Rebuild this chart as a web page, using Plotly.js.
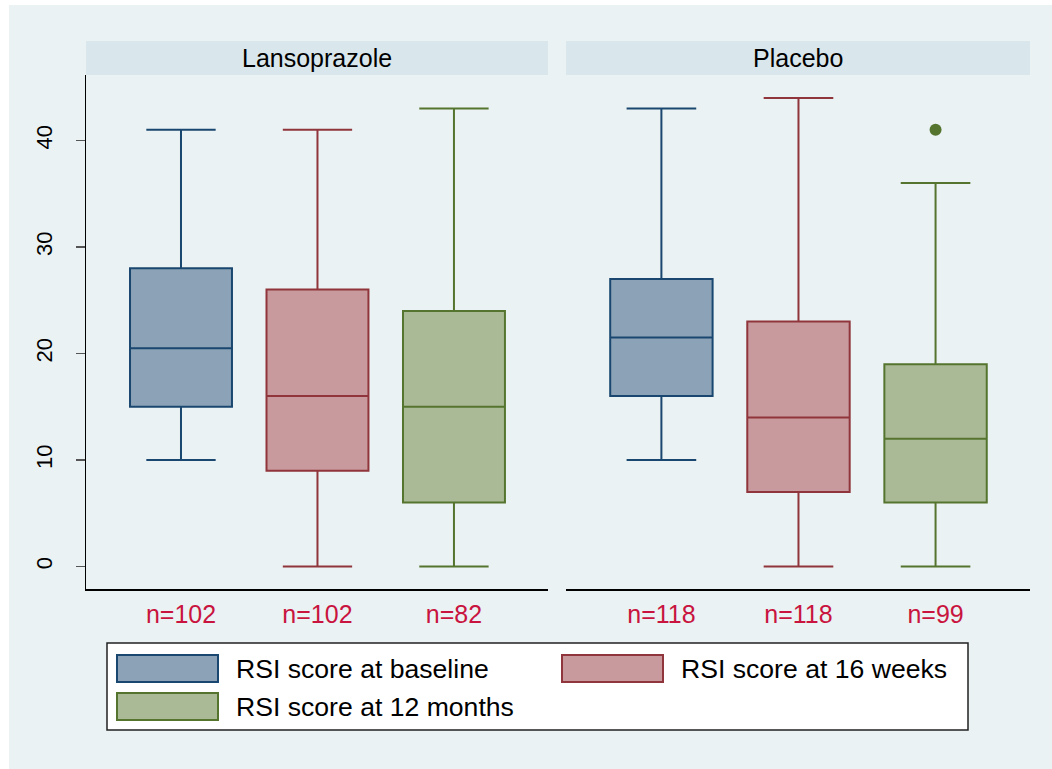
<!DOCTYPE html>
<html>
<head>
<meta charset="utf-8">
<script src="https://cdn.plot.ly/plotly-3.0.1.min.js"></script>
<style>html,body{margin:0;padding:0;background:#fff;}#chart{width:1052px;height:769px;}</style>
</head>
<body>
<div id="chart"></div>
<script>
// ---- data ----
const groups = ['Lansoprazole', 'Placebo'];
const seriesNames = ['RSI score at baseline', 'RSI score at 16 weeks', 'RSI score at 12 months'];
// per group: [baseline, 16 weeks, 12 months]
const nCounts = [[102, 102, 82], [118, 118, 99]];
const lowerWhisker = [[10, 0, 0], [10, 0, 0]];
const q1Values = [[15, 9, 6], [16, 7, 6]];
const medianValues = [[20.5, 16, 15], [21.5, 14, 12]];
const q3Values = [[28, 26, 24], [27, 23, 19]];
const upperWhisker = [[41, 41, 43], [43, 44, 36]];
// outliers
const outlierGroup = [1];
const outlierSeries = [2];
const outlierValue = [41];
const yTicks = [0, 10, 20, 30, 40];

// ---- styles ----
const lineColors = ['#1a476f', '#90353b', '#55752f'];
const fillColors = ['#8ca3b7', '#c89a9d', '#aaba97'];
const bg = '#eaf2f3';
const stripBg = '#d9e6eb';
const nColor = '#c8143e';
const FONT = 'Arial, "Liberation Sans", sans-serif';

const W = 1052, H = 769;
const L = 86, R = 1030, T = 75, B = 589;
const pw = R - L, ph = B - T;
const px = v => (v - L) / pw;
const py = v => (B - v) / ph;

const traces = [];
groups.forEach((g, gi) => {
  const xa = gi === 0 ? 'x' : 'x2';
  seriesNames.forEach((s, si) => {
    traces.push({
      type: 'box',
      name: s,
      xaxis: xa, yaxis: 'y',
      x: [si],
      q1: [q1Values[gi][si]],
      median: [medianValues[gi][si]],
      q3: [q3Values[gi][si]],
      lowerfence: [lowerWhisker[gi][si]],
      upperfence: [upperWhisker[gi][si]],
      boxpoints: false,
      width: 0.747,
      whiskerwidth: 0.68,
      line: {color: lineColors[si], width: 2},
      fillcolor: fillColors[si],
      showlegend: false,
      hoverinfo: 'skip'
    });
  });
});
outlierValue.forEach((v, i) => {
  traces.push({
    type: 'scatter', mode: 'markers',
    xaxis: outlierGroup[i] === 0 ? 'x' : 'x2', yaxis: 'y',
    x: [outlierSeries[i]], y: [v],
    marker: {color: lineColors[outlierSeries[i]], size: 12},
    showlegend: false, hoverinfo: 'skip'
  });
});

const xCommon = {
  range: [-0.696, 2.689],
  tickvals: [0, 1, 2],
  showgrid: false, zeroline: false,
  showline: true, linecolor: '#000', linewidth: 1.5,
  ticks: 'outside', ticklen: 2, tickcolor: 'rgba(0,0,0,0)',
  tickfont: {family: FONT, size: 25, color: nColor},
  fixedrange: true
};

const shapes = [];
const annotations = [];
// background
shapes.push({type: 'rect', xref: 'paper', yref: 'paper', layer: 'below',
  x0: px(9), x1: px(1060), y0: py(5), y1: py(780), fillcolor: bg, line: {width: 0}});
// strips
const panelX = [[86, 548], [566, 1030]];
groups.forEach((g, gi) => {
  shapes.push({type: 'rect', xref: 'paper', yref: 'paper', layer: 'above',
    x0: px(panelX[gi][0]), x1: px(panelX[gi][1]), y0: py(75), y1: py(41),
    fillcolor: stripBg, line: {width: 0}});
  annotations.push({xref: 'paper', yref: 'paper', x: px((panelX[gi][0] + panelX[gi][1]) / 2), y: py(58),
    text: g, showarrow: false, xanchor: 'center', yanchor: 'middle',
    font: {family: FONT, size: 25, color: '#000'}});
});
// legend
shapes.push({type: 'rect', xref: 'paper', yref: 'paper', layer: 'above',
  x0: px(107), x1: px(968), y0: py(730), y1: py(643), fillcolor: '#fff', line: {color: '#222', width: 1.5}});
const legPos = [[117, 655], [562, 655], [117, 693]];
seriesNames.forEach((s, si) => {
  const [lx, ly] = legPos[si];
  shapes.push({type: 'rect', xref: 'paper', yref: 'paper', layer: 'above',
    x0: px(lx), x1: px(lx + 101), y0: py(ly + 27), y1: py(ly),
    fillcolor: fillColors[si], line: {color: lineColors[si], width: 2}});
  annotations.push({xref: 'paper', yref: 'paper', x: px(lx + 117), y: py(ly + 14),
    text: s, showarrow: false, xanchor: 'left', yanchor: 'middle',
    font: {family: FONT, size: 26.6, color: '#000'}});
});

const layout = {
  width: W, height: H,
  margin: {l: L, r: W - R, t: T, b: H - B, pad: 0},
  paper_bgcolor: '#fff',
  plot_bgcolor: '#fff',
  showlegend: false,
  boxmode: 'overlay',
  xaxis: Object.assign({}, xCommon, {domain: [0, px(548)], anchor: 'y',
    ticktext: nCounts[0].map(n => 'n=' + n)}),
  xaxis2: Object.assign({}, xCommon, {domain: [px(566), 1], anchor: 'y',
    ticktext: nCounts[1].map(n => 'n=' + n)}),
  yaxis: {
    range: [-2.11, 46.15],
    tickvals: yTicks,
    showgrid: true, gridcolor: bg, gridwidth: 1.5,
    zeroline: false,
    showline: true, linecolor: '#000', linewidth: 1.5,
    ticks: 'outside', ticklen: 9, tickcolor: '#555', tickwidth: 1.5,
    tickangle: -90,
    ticklabelstandoff: 15,
    tickfont: {family: FONT, size: 22, color: '#000'},
    fixedrange: true
  },
  shapes: shapes,
  annotations: annotations
};

Plotly.newPlot('chart', traces, layout, {displayModeBar: false, staticPlot: true});
</script>
</body>
</html>
